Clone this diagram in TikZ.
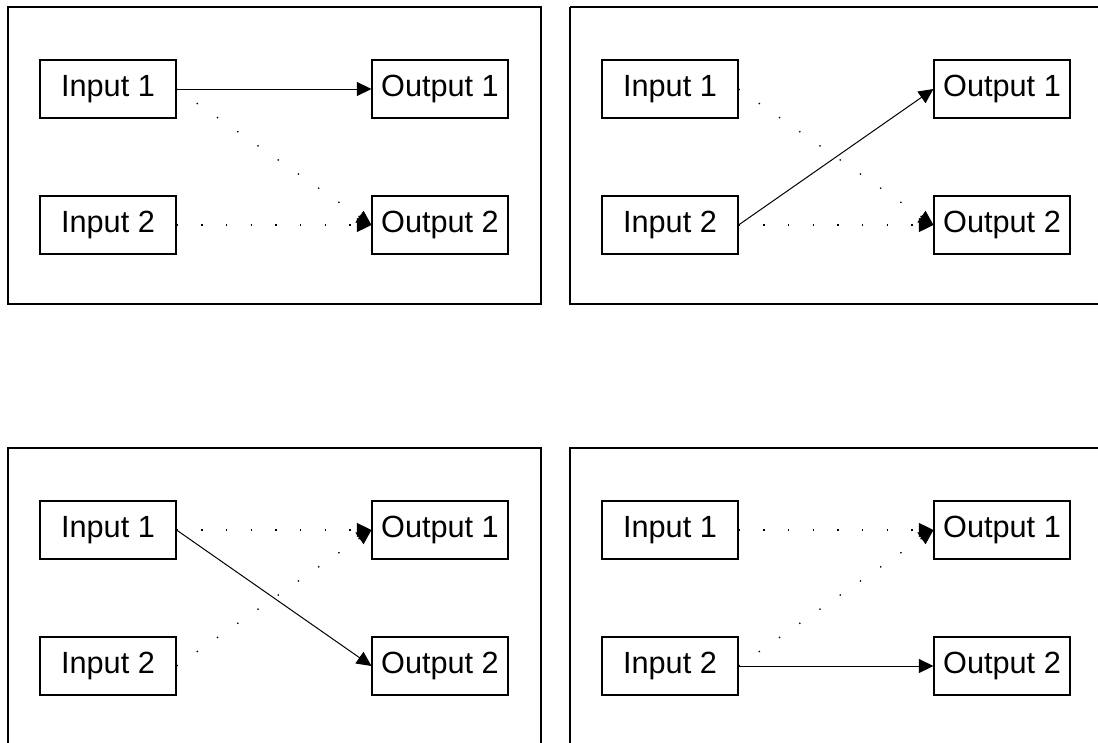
\documentclass[tikz,border=0pt]{standalone}
\usepackage{fontspec}
\setmainfont{Liberation Sans}
\usetikzlibrary{arrows.meta}
\begin{document}
\begin{tikzpicture}[x=0.75pt,y=-0.75pt,
  panel/.style={draw=black,line width=0.9pt},
  iobox/.style={draw=black,line width=0.8pt,rectangle,minimum width=102pt,minimum height=43.5pt,inner sep=0pt,font=\fontsize{23}{26}\selectfont},
  solidarrow/.style={draw=black,line width=0.75pt,-{Triangle[length=11pt,width=10.5pt]}},
  dotarrow/.style={draw=black,line width=1pt,dash pattern=on 1pt off 17.5pt,-{Triangle[length=11pt,width=10.5pt,fill=black]}}]
\useasboundingbox (0,0) rectangle (1098,742);
\fill[white] (0,0) rectangle (1098,742);
% panel 1 (top left)
\begin{scope}
  \draw[panel] (8,7) rectangle (541,304);
  \node[iobox] (ai1) at (108,89) {Input 1};
  \node[iobox] (ai2) at (108,225) {Input 2};
  \node[iobox] (ao1) at (440,89) {Output 1};
  \node[iobox] (ao2) at (440,225) {Output 2};
  \draw[solidarrow] (ai1.east) -- (ao1.west);
  \draw[dotarrow] (ai1.east) -- (ao2.west);
  \draw[dotarrow] (ai2.east) -- (ao2.west);
\end{scope}
% panel 2 (top right)
\begin{scope}[shift={(562,0)}]
  \draw[panel] (8,7) -- (560,7);
  \draw[panel] (8,7) -- (8,304) -- (560,304);
  \node[iobox] (bi1) at (108,89) {Input 1};
  \node[iobox] (bi2) at (108,225) {Input 2};
  \node[iobox] (bo1) at (440,89) {Output 1};
  \node[iobox] (bo2) at (440,225) {Output 2};
  \draw[dotarrow] (bi1.east) -- (bo2.west);
  \draw[solidarrow] (bi2.east) -- (bo1.west);
  \draw[dotarrow] (bi2.east) -- (bo2.west);
\end{scope}
% panel 3 (bottom left)
\begin{scope}[shift={(0,441)}]
  \draw[panel] (8,320) -- (8,7) -- (541,7) -- (541,320);
  \node[iobox] (ci1) at (108,89) {Input 1};
  \node[iobox] (ci2) at (108,225) {Input 2};
  \node[iobox] (co1) at (440,89) {Output 1};
  \node[iobox] (co2) at (440,225) {Output 2};
  \draw[dotarrow] (ci1.east) -- (co1.west);
  \draw[solidarrow] (ci1.east) -- (co2.west);
  \draw[dotarrow] (ci2.east) -- (co1.west);
\end{scope}
% panel 4 (bottom right)
\begin{scope}[shift={(562,441)}]
  \draw[panel] (8,320) -- (8,7) -- (560,7);
  \node[iobox] (di1) at (108,89) {Input 1};
  \node[iobox] (di2) at (108,225) {Input 2};
  \node[iobox] (do1) at (440,89) {Output 1};
  \node[iobox] (do2) at (440,225) {Output 2};
  \draw[dotarrow] (di1.east) -- (do1.west);
  \draw[dotarrow] (di2.east) -- (do1.west);
  \draw[solidarrow] (di2.east) -- (do2.west);
\end{scope}
\end{tikzpicture}
\end{document}
